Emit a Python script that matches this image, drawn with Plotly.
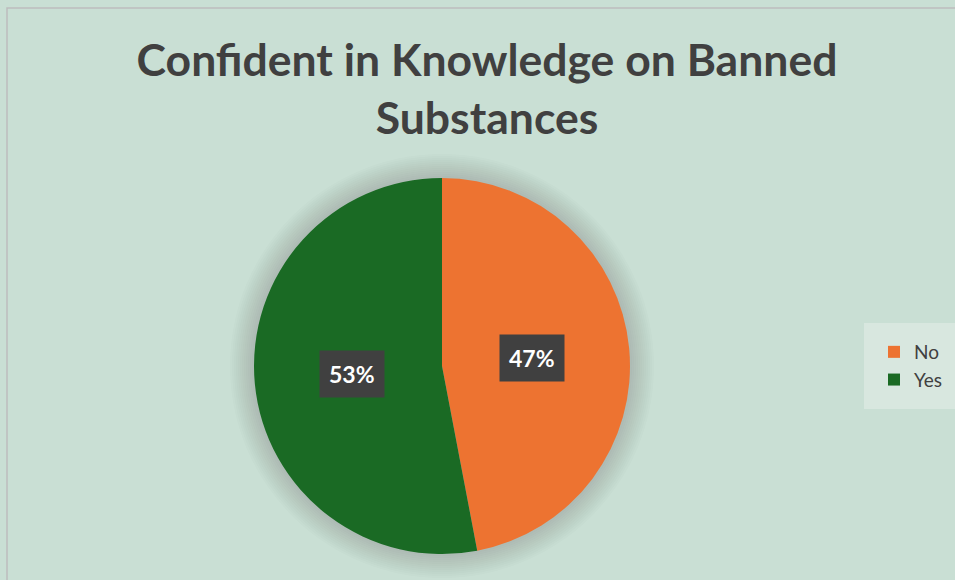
import math
import plotly.graph_objects as go

categories = ["No", "Yes"]
values = [47, 53]
colors = ["#ED7331", "#1A6A24"]
title_text = "Confident in Knowledge on Banned<br>Substances"

W, H = 955, 580
cx, cy, r = 442, 366, 188  # pie centre/radius in pixels

dom_x = [(cx - r) / W, (cx + r) / W]
dom_y = [1 - (cy + r) / H, 1 - (cy - r) / H]

fig = go.Figure()
fig.add_trace(go.Pie(
    labels=categories,
    values=values,
    marker=dict(colors=colors, line=dict(width=0)),
    sort=False,
    direction="clockwise",
    rotation=0,
    textinfo="none",
    hoverinfo="label+percent",
    domain=dict(x=dom_x, y=dom_y),
))

# data labels: placed along each slice's mid-angle, computed from the values
total = sum(values)
cum = 0
for v in values:
    mid = (cum + v / 2) / total * 2 * math.pi
    cum += v
    px = cx + 0.48 * r * math.sin(mid)
    py = cy - 0.48 * r * math.cos(mid)
    fig.add_annotation(
        x=px / W, y=1 - py / H, xref="paper", yref="paper",
        text=f"<b>{round(v / total * 100)}%</b>",
        showarrow=False,
        font=dict(family="Lato, Open Sans, sans-serif", size=23, color="white"),
        bgcolor="#404040", borderpad=9,
    )

# soft shadow/glow around the pie
shapes = []
for k in range(12, 0, -1):
    rr = r + k * 2
    shapes.append(dict(type="circle", xref="paper", yref="paper",
                       x0=(cx - rr) / W, x1=(cx + rr) / W,
                       y0=1 - (cy + rr) / H, y1=1 - (cy - rr) / H,
                       fillcolor="rgba(40,80,60,0.016)", line=dict(width=0),
                       layer="below"))
shapes.append(dict(type="rect", xref="paper", yref="paper",
                   x0=7 / W, y0=-0.05, x1=1.05, y1=1 - 8 / H,
                   line=dict(color="#BDBDBD", width=1.5), fillcolor="rgba(0,0,0,0)",
                   layer="below"))

fig.update_layout(
    width=W, height=H,
    margin=dict(l=0, r=0, t=0, b=0, autoexpand=False),
    paper_bgcolor="#C9DFD4",
    plot_bgcolor="#C9DFD4",
    title=dict(
        text=f"<b>{title_text}</b>",
        x=487 / W, xanchor="center",
        y=1 - 76 / H, yanchor="top",
        font=dict(family="Lato, Open Sans, sans-serif", size=44.5, color="#404040"),
    ),
    legend=dict(
        x=864 / W, y=1 - 323 / H, xanchor="left", yanchor="top",
        bgcolor="#D8E7DF",
        bordercolor="#D8E7DF", borderwidth=10,
        font=dict(family="Lato, Open Sans, sans-serif", size=19, color="#404040"),
        itemwidth=30,
    ),
    showlegend=True,
    shapes=shapes,
)

fig.write_html("out.html",
               config={"displayModeBar": False},
               post_script="document.body.style.margin='0';document.body.style.overflow='hidden';")
